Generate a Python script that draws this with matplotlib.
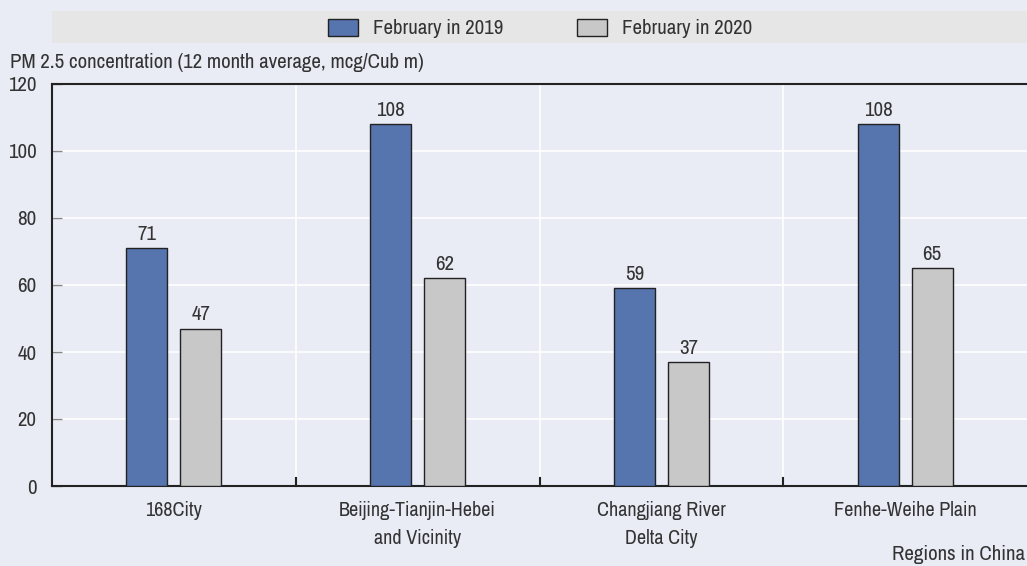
import matplotlib.pyplot as plt
import matplotlib.patches as mpatches
from matplotlib import font_manager
import numpy as np

regions = ['168City', 'Beijing-Tianjin-Hebei\nand Vicinity', 'Changjiang River\nDelta City', 'Fenhe-Weihe Plain']
feb_2019 = [71, 108, 59, 108]
feb_2020 = [47, 62, 37, 65]
series_labels = ['February in 2019', 'February in 2020']
y_ticks = [0, 20, 40, 60, 80, 100, 120]

# prefer a narrow sans face, like the reference
names = sorted({f.name for f in font_manager.fontManager.ttflist})
narrow = [n for n in names if 'Narrow' in n or 'Condensed' in n]
plt.rcParams['font.family'] = narrow[:1] + ['Liberation Sans', 'DejaVu Sans']

text_color = '#333333'
bg = '#e9ebf5'
blue = '#5674ae'
grey = '#c8c8c9'

W, H = 1027, 566
fig = plt.figure(figsize=(W / 100, H / 100), dpi=100, facecolor=bg)
ax = fig.add_axes([52 / W, 80 / H, (W - 52) / W, 402 / H], facecolor=bg)

x = np.arange(len(regions))
width = 0.168
off = 0.111
b1 = ax.bar(x - off, feb_2019, width, color=blue, edgecolor='#222222', linewidth=1, zorder=3)
b2 = ax.bar(x + off, feb_2020, width, color=grey, edgecolor='#222222', linewidth=1, zorder=3)

for bars, vals in [(b1, feb_2019), (b2, feb_2020)]:
    for rect, v in zip(bars, vals):
        ax.text(rect.get_x() + rect.get_width() / 2, v + 1.3, str(v), ha='center', va='bottom',
                fontsize=15, color=text_color)

ax.set_xlim(-0.5, len(regions) - 0.5)
ax.set_ylim(0, 120)
ax.set_yticks(y_ticks)
ax.set_yticklabels([str(t) for t in y_ticks], fontsize=15, color=text_color)
ax.tick_params(axis='y', direction='in', length=7, width=1, color='#888888', pad=11)
ax.set_xticks(x)
ax.set_xticklabels(regions, fontsize=14.5, color=text_color, linespacing=1.55)
ax.tick_params(axis='x', length=0, pad=11)

# category boundaries: white vertical lines and small ticks at the base
for b in np.arange(0.5, len(regions) - 0.5, 1):
    ax.axvline(b, color='white', linewidth=1.2, zorder=1)
    ax.plot([b, b], [0, 2.5], color='#222222', linewidth=1.5, zorder=4, clip_on=False)

ax.yaxis.grid(True, color='white', linewidth=1.2, zorder=1)
ax.set_axisbelow(True)
ax.spines['right'].set_visible(False)
for side in ['left', 'bottom', 'top']:
    ax.spines[side].set_color('#222222')
    ax.spines[side].set_linewidth(1.5)

# legend band
fig.patches.append(mpatches.Rectangle((52 / W, 1 - 43 / H), (W - 52) / W, 32 / H,
                                      transform=fig.transFigure, facecolor='#e6e6e6',
                                      edgecolor='none', zorder=0))
for px, col, lab in [(328, blue, series_labels[0]), (577, grey, series_labels[1])]:
    fig.patches.append(mpatches.Rectangle((px / W, 1 - 36 / H), 30 / W, 17 / H,
                                          transform=fig.transFigure, facecolor=col,
                                          edgecolor='#222222', linewidth=1))
    fig.text((px + 45) / W, 1 - 28 / H, lab, fontsize=15, color=text_color, va='center', ha='left')

fig.text(10 / W, 1 - 63 / H, 'PM 2.5 concentration (12 month average, mcg/Cub m)',
         fontsize=15, color=text_color, va='center', ha='left')
fig.text(1025 / W, 1 - 555 / H, 'Regions in China', fontsize=15, color=text_color,
         va='center', ha='right')

fig.savefig('out.png', dpi=100, facecolor=bg)
